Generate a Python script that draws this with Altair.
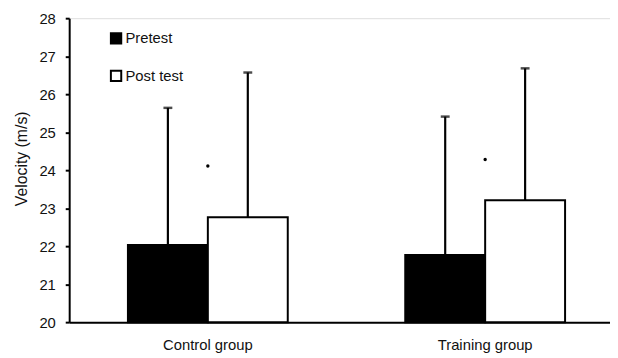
import altair as alt
import pandas as pd

groups = ["Control group", "Training group"]
phases = ["Pretest", "Post test"]
pre_mean = [22.03, 21.77]
pre_upper = [25.64, 25.41]
post_mean = [22.76, 23.21]
post_upper = [26.57, 26.68]
dot_values = [24.11, 24.28]
y_ticks = [20, 21, 22, 23, 24, 25, 26, 27, 28]

rows = []
for i, g in enumerate(groups):
    rows.append({"group": g, "phase": "Pretest", "mean": pre_mean[i], "upper": pre_upper[i]})
    rows.append({"group": g, "phase": "Post test", "mean": post_mean[i], "upper": post_upper[i]})
df = pd.DataFrame(rows)
dots = pd.DataFrame({"group": groups, "value": dot_values})

FONT = "Liberation Sans"
TXT = "#111"

x_enc = alt.X(
    "group:N",
    sort=groups,
    scale=alt.Scale(domain=groups, range=[0, 562], paddingInner=0, paddingOuter=0),
    axis=alt.Axis(title=None, ticks=False, labelPadding=16, labelFontSize=15,
                  labelFont=FONT, labelColor=TXT, domainColor="black",
                  domainWidth=2, labelAngle=0),
)
xoff = alt.XOffset("phase:N", sort=phases,
                   scale=alt.Scale(domain=phases, paddingInner=0, paddingOuter=0.735))
y_scale = alt.Scale(domain=[20, 28], nice=False, zero=False)
y_axis = alt.Axis(title="Velocity (m/s)", values=y_ticks, grid=False, labelOverlap=False,
                  tickSize=4, tickColor="black", tickWidth=2, domainColor="black",
                  domainWidth=2, labelFontSize=15, labelFont=FONT, labelColor=TXT,
                  labelPadding=10, titleFont=FONT, titleFontSize=16,
                  titleFontWeight="normal", titleColor=TXT, titleX=-40, titleY=142)

bars = alt.Chart(df).mark_bar(stroke="black", strokeWidth=2).encode(
    x=x_enc,
    xOffset=xoff,
    y=alt.Y("mean:Q", scale=y_scale, axis=y_axis),
    y2=alt.datum(20),
    fill=alt.Fill("phase:N", sort=phases,
                  scale=alt.Scale(domain=phases, range=["black", "white"]),
                  legend=alt.Legend(title=None, orient="none", legendX=40, legendY=13,
                                    symbolType="square", symbolSize=110,
                                    symbolStrokeColor="black", symbolStrokeWidth=2,
                                    labelFont=FONT, labelFontSize=15, labelColor=TXT,
                                    labelOffset=2, rowPadding=19)),
)

err = alt.Chart(df).mark_rule(color="black", strokeWidth=2.2).encode(
    x=x_enc, xOffset=xoff, y=alt.Y("mean:Q", scale=y_scale, axis=y_axis), y2="upper:Q"
)
caps = alt.Chart(df).mark_tick(color="black", thickness=2.5, size=9).encode(
    x=x_enc, xOffset=xoff, y=alt.Y("upper:Q", scale=y_scale, axis=y_axis)
)
dot = alt.Chart(dots).mark_circle(color="black", size=12, opacity=1).encode(
    x=x_enc, y=alt.Y("value:Q", scale=y_scale, axis=y_axis)
)

chart = alt.layer(bars, err, caps, dot).properties(
    width=548, height=308,
    autosize=alt.AutoSizeParams(type="none"),
    padding={"left": 62, "top": 8, "right": 0, "bottom": 34},
).configure_view(stroke=None).configure(background="white")

chart.save("out.html", embed_options={"renderer": "svg", "actions": False})
